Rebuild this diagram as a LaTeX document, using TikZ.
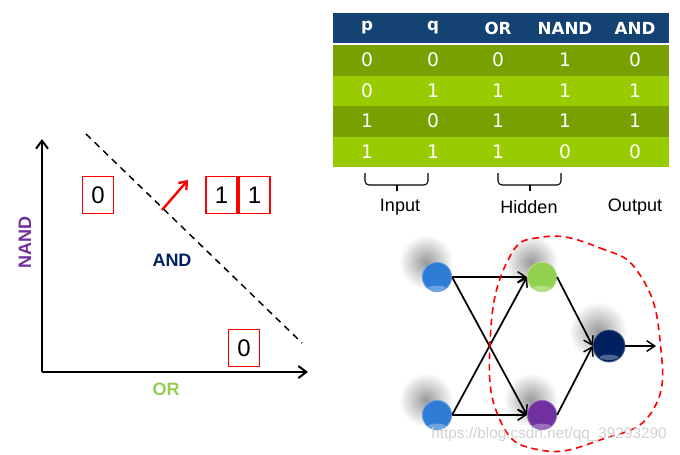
\documentclass[tikz,border=0pt]{standalone}
\usepackage{fontspec}
\setmainfont{Liberation Sans}
\newfontfamily\verd{DejaVu Sans}
\usetikzlibrary{arrows.meta,fadings,shapes.geometric}
\definecolor{hdblue}{HTML}{144272}
\definecolor{rowdark}{HTML}{78A000}
\definecolor{rowlight}{HTML}{99CC00}
\definecolor{andnavy}{HTML}{002060}
\definecolor{nandpurple}{HTML}{7030A0}
\definecolor{orgreen}{HTML}{92D050}
\definecolor{inblue}{HTML}{2E7CD6}
\tikzfading[name=softblob, inner color=transparent!0, outer color=transparent!100]
\tikzset{
  valbox/.style={draw=red, line width=1.1pt, minimum width=23pt, minimum height=28pt,
    inner sep=0pt, font=\fontsize{18}{18}\selectfont},
  axislabel/.style={font=\fontsize{13.5}{14}\selectfont\bfseries},
  neuron/.style={circle, minimum size=22pt, inner sep=0pt, fill=#1, draw=#1!70!white, line width=0.6pt,
    path picture={\fill[white, opacity=0.3] ([yshift=-8.5pt]path picture bounding box.center) ellipse (7pt and 2pt);}},
  link/.style={line width=1.3pt, -{Straight Barb[length=6pt,width=8pt,line width=1.1pt]}},
  bracket/.style={line width=0.8pt, rounded corners=3},
}
\begin{document}
\begin{tikzpicture}[x=0.75pt, y=-0.75pt]
  \useasboundingbox (0,0) rectangle (680,454);
  % truth table
  \fill[hdblue] (333,13) rectangle (669,43);
  \foreach \r/\col in {0/rowdark,1/rowlight,2/rowdark,3/rowlight}
    \fill[\col] (333,45+30.5*\r) rectangle (669,75.5+30.5*\r);
  \foreach \x/\t [count=\i] in {367/p,433/q,498/OR,565/NAND,635/AND}
    \node[text=white, font=\verd\fontsize{12.5}{12.5}\selectfont\bfseries] (hd\i) at (\x,28) {\t};
  \foreach \p/\q/\o/\n/\a [count=\r] in {0/0/0/1/0,0/1/1/1/1,1/0/1/1/1,1/1/1/0/0}
    \foreach \x/\v [count=\c] in {367/\p,433/\q,498/\o,565/\n,635/\a}
      \node[text=white, font=\verd\fontsize{14}{14}\selectfont] (v\r\c) at (\x,29.5+30.5*\r) {\v};
  \draw[bracket] (365,173) -- (365,185) -- (428,185) -- (428,173);
  \draw[line width=0.8pt] (397,185) -- (397,191);
  \draw[bracket] (498,173) -- (498,185) -- (561,185) -- (561,173);
  \draw[line width=0.8pt] (530,185) -- (530,191);
  \node[font=\fontsize{13.5}{14}\selectfont] (lin) at (400,207) {Input};
  \node[font=\fontsize{13.5}{14}\selectfont] (lhid) at (529,207) {Hidden};
  \node[font=\fontsize{13.5}{14}\selectfont] (lout) at (635,207) {Output};
  % decision plot
  \coordinate (o) at (42,372);
  \coordinate (ytop) at (42,139);
  \coordinate (xend) at (308,372);
  \draw[line width=1.5pt, -{Straight Barb[length=6pt,width=9pt]}] (o) -- (ytop);
  \draw[line width=1.5pt, -{Straight Barb[length=6pt,width=9pt]}] (o) -- (xend);
  \draw[line width=1.1pt, dash pattern=on 5pt off 4pt] (86,134) -- (302,343);
  \node[valbox] (b00) at (98,195) {0};
  \node[valbox] (b11a) at (221.5,195) {1};
  \node[valbox] (b11b) at (254.5,195) {1};
  \node[valbox] (b10) at (244,348) {0};
  \coordinate (nfoot) at (162,210);
  \coordinate (nhead) at (188,180);
  \draw[red, line width=1.8pt, -{Straight Barb[length=5pt,width=8pt]}] (nfoot) -- (nhead);
  \node[axislabel, text=andnavy] (land) at (172,260) {AND};
  \node[axislabel, text=nandpurple, rotate=90] (lnand) at (25,242) {NAND};
  \node[axislabel, text=orgreen] (lor) at (166,389) {OR};
  % network
  \foreach \x/\y/\s in {437/277/27,437/415/27,542/277/27,542/415/27,609/346/29}
    \fill[black!40, path fading=softblob] (\x-11,\y-15) circle (\s);
  \node[neuron=inblue] (in1) at (437,277) {};
  \node[neuron=inblue] (in2) at (437,415) {};
  \node[neuron=orgreen] (h1) at (542,277) {};
  \node[neuron=nandpurple] (h2) at (542,415) {};
  \node[neuron=andnavy, minimum size=24pt] (out) at (609,346) {};
  \coordinate (outend) at (656,346);
  \draw[link] (in1.east) -- (h1.west);
  \draw[link] (in1.east) -- (h2.west);
  \draw[link] (in2.east) -- (h1.west);
  \draw[link] (in2.east) -- (h2.west);
  \draw[link] (h1.east) -- (out.west);
  \draw[link] (h2.east) -- (out.west);
  \draw[link] (out.east) -- (outend);
  \draw[red, line width=1.2pt, dash pattern=on 5pt off 3.5pt] plot[smooth cycle, tension=0.8]
    coordinates {(543,237) (600,248) (640,275) (660,340) (653,410) (600,440) (540,450) (500,420) (490,343) (507,262)};
  \node[text=black!18, font=\fontsize{11.5}{12}\selectfont] (mark) at (549,435) {https://blog.csdn.net/qq\_39293290};
\end{tikzpicture}
\end{document}
